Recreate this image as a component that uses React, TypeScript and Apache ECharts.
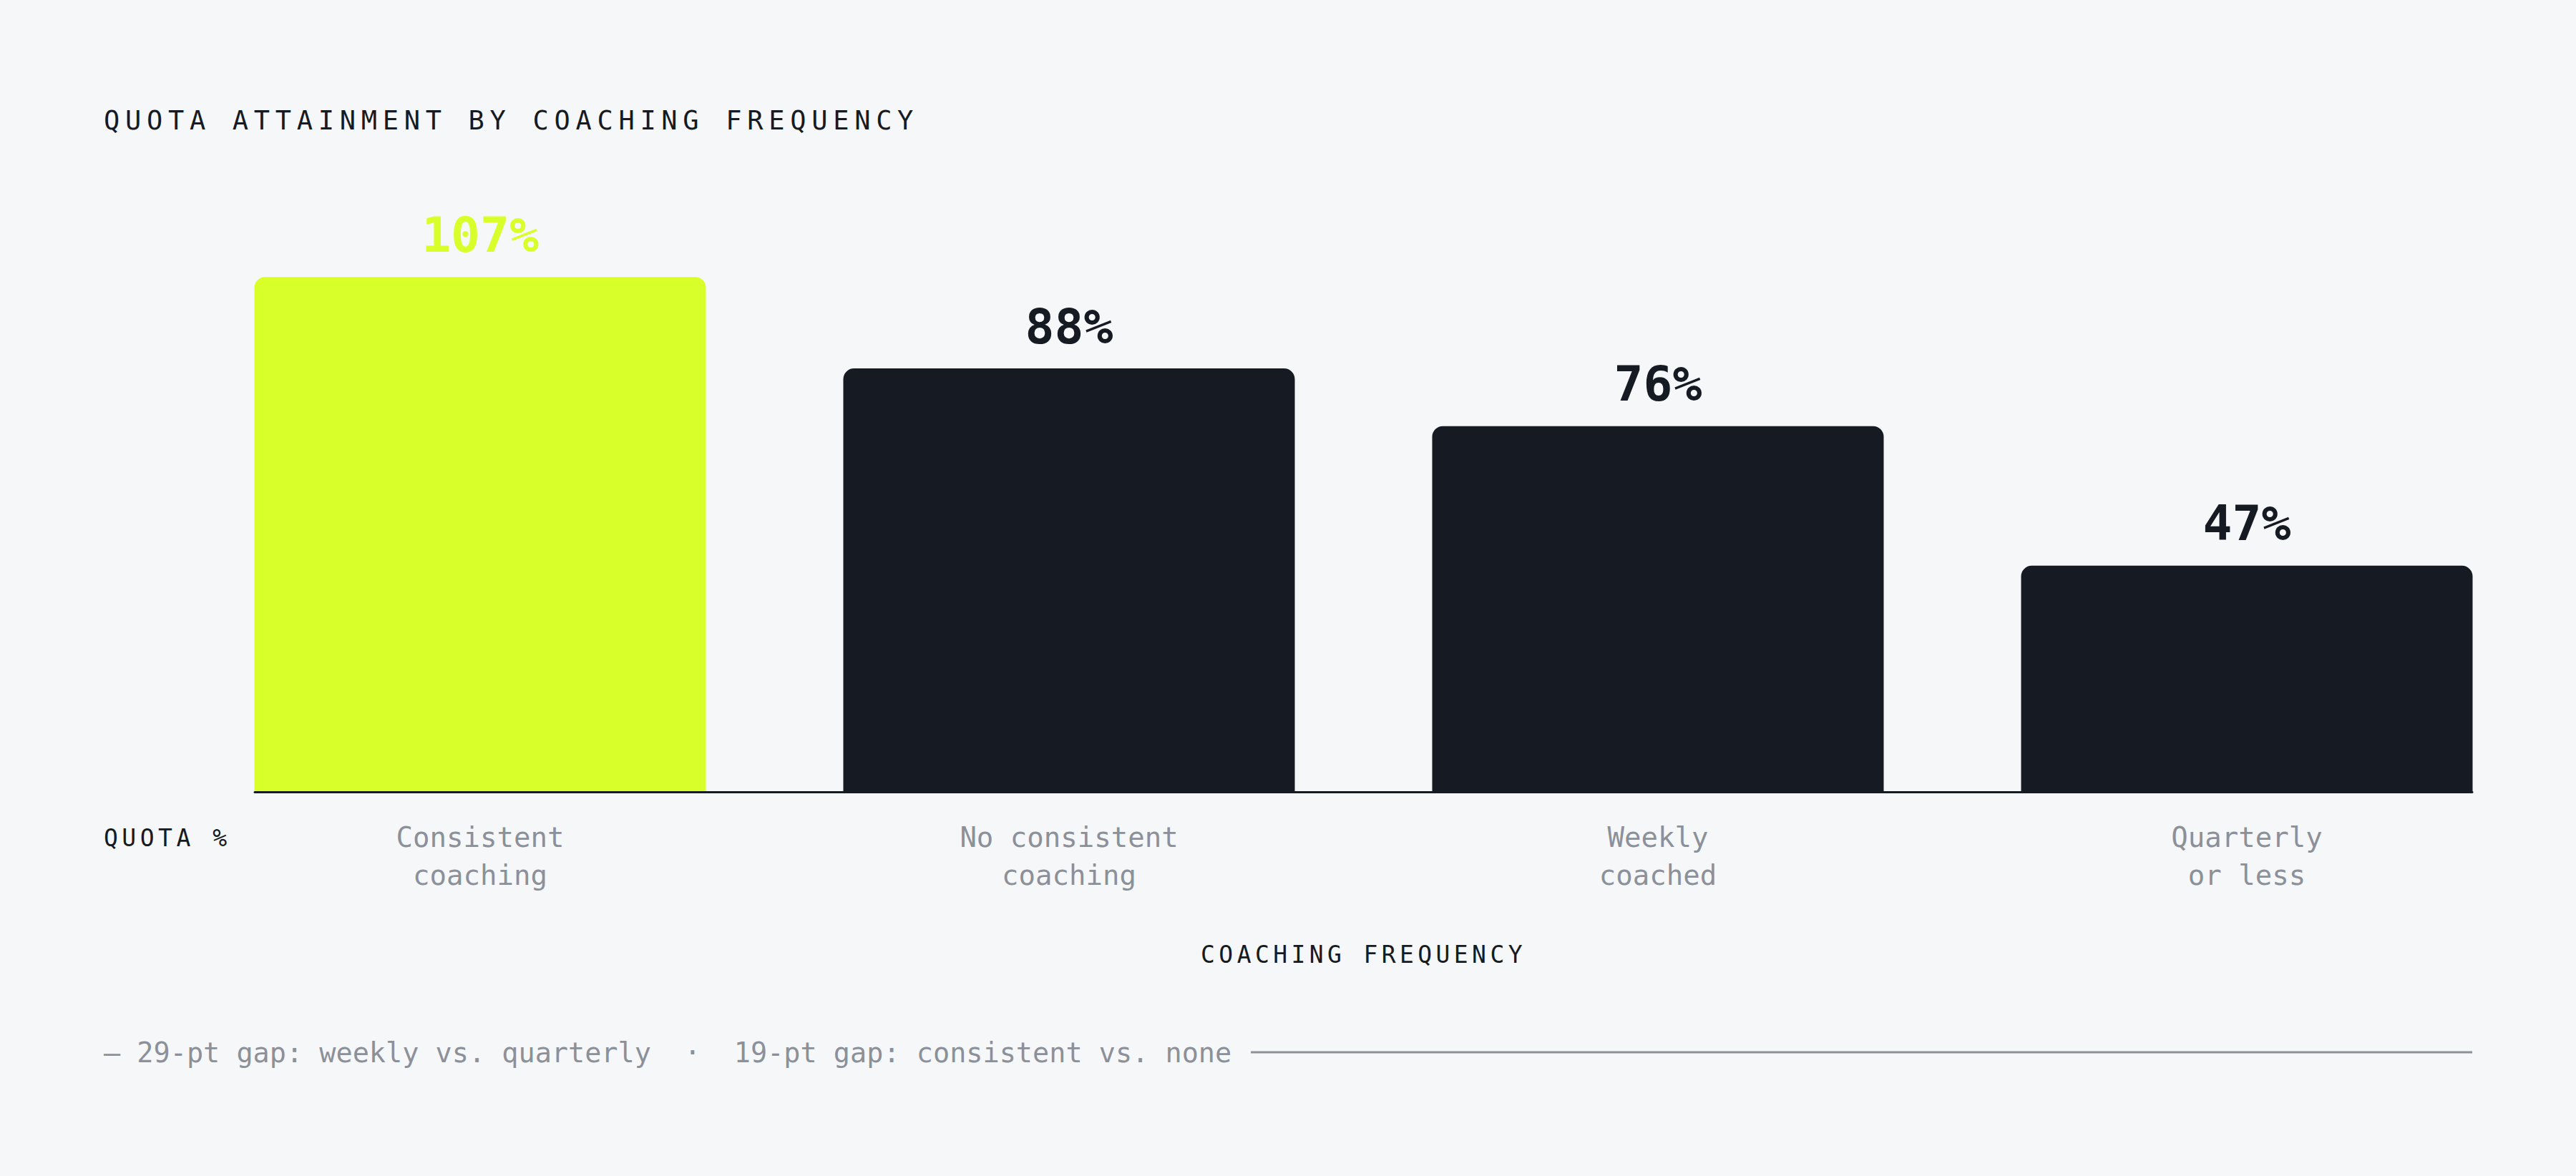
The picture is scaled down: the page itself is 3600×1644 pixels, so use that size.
import * as React from 'react';
import * as echarts from 'echarts';

// Chart data
const categories = ['Consistent\ncoaching', 'No consistent\ncoaching', 'Weekly\ncoached', 'Quarterly\nor less'];
const quotaValues = [107, 88, 76, 47];
const highlightIndex = 0;

const titleText = 'QUOTA ATTAINMENT BY COACHING FREQUENCY';
const yAxisLabel = 'QUOTA %';
const xAxisLabel = 'COACHING FREQUENCY';
const footerText = '— 29-pt gap: weekly vs. quarterly  ·  19-pt gap: consistent vs. none';

const MONO = '"DejaVu Sans Mono", "Liberation Mono", monospace';
const INK = '#161a22';
const LIME = '#d8ff2a';
const GRAY = '#8b9099';
const BG = '#f6f7f9';

// letter-spacing for the tracked labels (px)
const tracking: Record<string, number> = {
  [titleText]: 7.7,
  [yAxisLabel]: 5.5,
  [xAxisLabel]: 5.4,
};

function applyTextTweaks(root: HTMLElement) {
  root.querySelectorAll('text').forEach((t) => {
    const content = t.textContent || '';
    const spacing = tracking[content];
    if (spacing) t.setAttribute('letter-spacing', `${spacing}px`);
    (t as SVGTextElement).style.whiteSpace = 'pre';
  });
}

export default function App() {
  const chartRef = React.useRef<HTMLDivElement>(null);

  React.useEffect(() => {
    if (!chartRef.current) return;
    const chart = echarts.init(chartRef.current, null, { renderer: 'svg' });

    const option: echarts.EChartsOption = {
      animation: false,
      backgroundColor: BG,
      textStyle: { fontFamily: MONO },
      grid: [
        // bar grid widened by half a gap so the outer bars sit flush with the baseline ends
        { left: 259.5, right: 48.5, top: 367, bottom: 537 },
        // baseline grid
        { left: 356, right: 145, top: 367, bottom: 537 },
      ],
      xAxis: [
        {
          type: 'category',
          gridIndex: 0,
          data: categories,
          axisLine: { show: false },
          axisTick: { show: false },
          axisLabel: {
            margin: 37,
            fontSize: 39,
            lineHeight: 53,
            color: GRAY,
            fontFamily: MONO,
          },
          name: xAxisLabel,
          nameLocation: 'middle',
          nameGap: 211,
          nameTextStyle: { fontSize: 33, color: INK, fontFamily: MONO },
        },
        {
          type: 'value',
          gridIndex: 1,
          min: 0,
          max: 1,
          axisLine: { show: true, lineStyle: { color: INK, width: 3 } },
          axisTick: { show: false },
          axisLabel: { show: false },
          splitLine: { show: false },
          z: 10,
        },
      ],
      yAxis: [
        { type: 'value', gridIndex: 0, min: 0, max: 110, show: false },
        { type: 'value', gridIndex: 1, min: 0, max: 1, show: false },
      ],
      series: [
        {
          type: 'bar',
          xAxisIndex: 0,
          yAxisIndex: 0,
          silent: true,
          barWidth: 631,
          data: quotaValues.map((v, i) => ({
            value: v,
            itemStyle: { color: i === highlightIndex ? LIME : INK },
            label: { color: i === highlightIndex ? LIME : INK },
          })),
          itemStyle: { borderRadius: [15, 15, 0, 0] },
          label: {
            show: true,
            position: 'top',
            distance: 25,
            formatter: '{c}%',
            fontSize: 68,
            fontWeight: 'bold',
            fontFamily: MONO,
          },
        },
      ],
      graphic: [
        {
          type: 'text',
          x: 145,
          y: 168,
          style: {
            text: titleText,
            fontSize: 37,
            fontFamily: MONO,
            fill: INK,
            align: 'left',
            verticalAlign: 'middle',
          },
        },
        {
          type: 'text',
          x: 145,
          y: 1171,
          style: {
            text: yAxisLabel,
            fontSize: 33,
            fontFamily: MONO,
            fill: INK,
            align: 'left',
            verticalAlign: 'middle',
          },
        },
        {
          type: 'text',
          x: 145,
          y: 1471,
          style: {
            text: footerText,
            fontSize: 38.5,
            fontFamily: MONO,
            fill: GRAY,
            align: 'left',
            verticalAlign: 'middle',
          },
        },
        {
          type: 'line',
          shape: { x1: 1748, y1: 1471, x2: 3455, y2: 1471 },
          style: { stroke: GRAY, lineWidth: 3 },
        },
      ],
    };

    chart.setOption(option);
    applyTextTweaks(chartRef.current);
    const el = chartRef.current;
    chart.on('finished', () => applyTextTweaks(el));

    return () => {
      chart.dispose();
    };
  }, []);

  return (
    <div
      ref={chartRef}
      style={{ position: 'fixed', left: 0, top: 0, width: 3600, height: 1644, background: BG }}
    />
  );
}
